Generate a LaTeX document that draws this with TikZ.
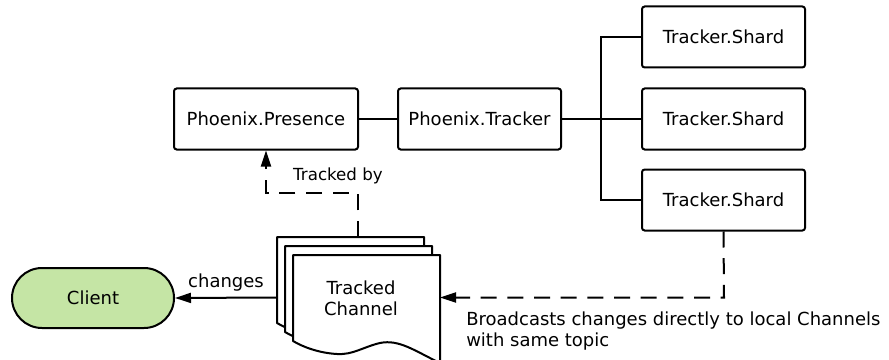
\documentclass[tikz,border=0pt]{standalone}
\usepackage{fontspec}
\setmainfont{DejaVu Sans}
\usetikzlibrary{arrows.meta,shapes.misc}
\begin{document}
\begin{tikzpicture}[x=0.75pt,y=-0.75pt,
  every node/.style={font=\fontsize{13.5}{15.5}\selectfont},
  proc/.style={draw,line width=1.5pt,rounded corners=2pt,minimum width=123pt,minimum height=45.75pt,inner sep=0pt},
  shard/.style={proc,minimum width=122.25pt},
  wire/.style={line width=1.5pt},
  dashline/.style={line width=1.5pt,dash pattern=on 12pt off 8pt},
  tip/.style={-{Triangle[length=12pt,width=7.5pt]}},
  page/.style={draw,line width=1.5pt,fill=white,line join=round}]
\useasboundingbox (0,0) rectangle (889,360);

% upper row
\node[proc,minimum width=138pt] (presence) at (266,119) {Phoenix.Presence};
\node[proc,minimum width=122.25pt] (tracker) at (479.5,119) {Phoenix.Tracker};
\node[shard] (s1) at (723.5,37) {Tracker.Shard};
\node[shard] (s2) at (723.5,119) {Tracker.Shard};
\node[shard] (s3) at (723.5,200) {Tracker.Shard};

\draw[wire] (presence.east) -- (tracker.west);
\coordinate (trunk) at (601,119);
\draw[wire] (tracker.east) -- (s2.west);
\draw[wire] (s1.west) -- (s1.west -| trunk) -- (s3.west -| trunk) -- (s3.west);

% tracked channel: stacked document pages
\foreach \dx/\dy in {0/0,8/9,16/18}{
  \draw[page,shift={(277+\dx,237+\dy)}]
    (0,0) -- (147,0) -- (147,108)
    .. controls (122,96) and (106,84) .. (87,88)
    .. controls (70,92) and (60,100) .. (44,99)
    .. controls (26,98) and (10,92) .. (0,86) -- cycle;
}
\node[align=center] (chantext) at (361,298) {Tracked\\Channel};
\coordinate (chanleft) at (277,297.5);
\coordinate (chanright) at (440,297.5);
\coordinate (chantop) at (358,237);

% client
\node[draw,line width=1.5pt,fill={rgb,255:red,197;green,229;blue,165},rounded rectangle,
      minimum width=121.5pt,minimum height=45pt,inner sep=0pt] (client) at (93,298) {Client};

\draw[wire,tip] (chanleft) -- (client.east)
  node[midway,above=1pt] (chg) {changes};

% tracked by
\draw[dashline,tip] (chantop) -- (358,193) -- (266,193) -- (presence.south);
\node[font=\fontsize{12.5}{14}\selectfont] (tb) at (338,176) {Tracked by};

% broadcast
\draw[dashline,tip] (s3.south) -- (724,297.5) -- (chanright);
\node[align=left,anchor=north west,inner sep=0pt] (bc) at (466,312)
  {Broadcasts changes directly to local Channels\\with same topic};
\end{tikzpicture}
\end{document}
